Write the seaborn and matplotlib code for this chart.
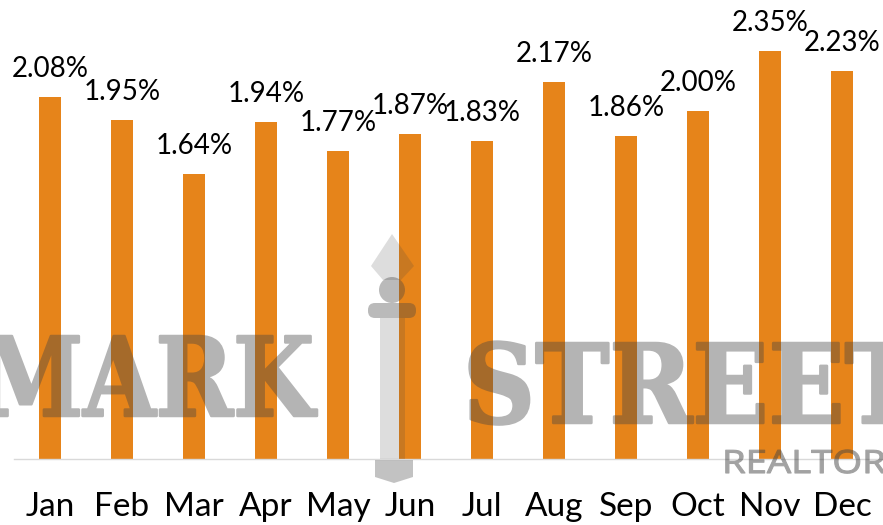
import os
import matplotlib
matplotlib.use("Agg")
import matplotlib.pyplot as plt
import pandas as pd
import seaborn as sns
from matplotlib.font_manager import FontProperties, findfont
from matplotlib.patheffects import AbstractPathEffect
from matplotlib.transforms import Affine2D
from matplotlib.patches import Rectangle, Polygon, Circle, FancyBboxPatch

# Monthly rate, percent
months = ["Jan", "Feb", "Mar", "Apr", "May", "Jun",
          "Jul", "Aug", "Sep", "Oct", "Nov", "Dec"]
rates = [2.08, 1.95, 1.64, 1.94, 1.77, 1.87, 1.83, 2.17, 1.86, 2.00, 2.35, 2.23]
value_labels = [f"{v:.2f}%" for v in rates]

BAR_COLOR = "#E6841A"
INK = "#444444"
W, H = 883, 525


class StretchInk(AbstractPathEffect):
    """Scale glyph outlines horizontally and thicken them with an outline stroke."""

    def __init__(self, sx=1.0, lw=0.0):
        super().__init__()
        self._sx, self._lw = sx, lw

    def draw_path(self, renderer, gc, tpath, affine, rgbFace=None):
        gc0 = renderer.new_gc()
        gc0.copy_properties(gc)
        if self._lw > 0:
            gc0.set_linewidth(self._lw)
            gc0.set_foreground(rgbFace)
            gc0.set_joinstyle("round")
        renderer.draw_path(gc0, tpath, Affine2D().scale(self._sx, 1.0) + affine, rgbFace)
        gc0.restore()


def group_alpha(a):
    """agg filter: fade an artist as a whole so overlapping strokes stay even."""
    def _filter(img, dpi):
        out = img.copy()
        out[..., 3] *= a
        return out, 0, 0
    return _filter


sns.set_theme(style="white")
plt.rcParams["font.family"] = ["Lato", "DejaVu Sans"]

# slab-serif face for the logo
slab_file = os.path.join(matplotlib.get_data_path(), "fonts", "ttf", "DejaVuSerif-Bold.ttf")
if not os.path.exists(slab_file):
    slab_file = findfont(FontProperties(family="DejaVu Serif", weight="bold"))
slab = FontProperties(fname=slab_file, size=79)

fig = plt.figure(figsize=(W / 100, H / 100), dpi=100)
fig.patch.set_facecolor("white")

# axes: baseline 66 px above the bottom edge, 173.8 px per percentage point
ymax = 2.6
ax = fig.add_axes([14 / W, 66 / H, 869 / W, ymax * 173.8 / H])

df = pd.DataFrame({"month": months, "rate": rates})
sns.barplot(data=df, x="month", y="rate", color=BAR_COLOR, saturation=1,
            width=0.31, linewidth=0, ax=ax)

ax.set_xlim(-0.5, 11.57)
ax.set_ylim(0, ymax)
ax.set_xlabel("")
ax.set_ylabel("")
ax.set_yticks([])
ax.tick_params(axis="x", length=0, pad=24, labelsize=24, labelcolor="black")
sns.despine(ax=ax, left=True)
ax.spines["bottom"].set_color("#D9D9D9")
ax.spines["bottom"].set_linewidth(1.0)

for bar, lbl in zip(ax.patches, value_labels):
    ax.annotate(lbl, (bar.get_x() + bar.get_width() / 2, bar.get_height()),
                xytext=(0, 14.4), textcoords="offset points",
                ha="center", va="baseline", fontsize=20, color="black",
                annotation_clip=False)

# --- logo watermark ---------------------------------------------------------
def fx(x):
    return x / W


def fy(y):
    return 1 - y / H


px = Affine2D().scale(1 / W, -1 / H).translate(0, 1) + fig.transFigure

wm = dict(fontproperties=slab, color=INK, ha="left", va="baseline", zorder=5)
t1 = fig.text(fx(-20), fy(416), "MARK", path_effects=[StretchInk(0.85, 1.8)], **wm)
t2 = fig.text(fx(463), fy(423), "STREET", path_effects=[StretchInk(0.91, 1.8)], **wm)
for t in (t1, t2):
    t.set_agg_filter(group_alpha(0.4))

t3 = fig.text(fx(722), fy(473), "REALTORS", family="Open Sans", color=INK,
              ha="left", va="baseline", fontsize=23, zorder=5,
              path_effects=[StretchInk(1.2, 0.8)])
t3.set_agg_filter(group_alpha(0.5))

# the post with its arrow finial
light = dict(facecolor=INK, edgecolor="none", alpha=0.18, transform=px, zorder=4)
mid = dict(facecolor=INK, edgecolor="none", alpha=0.37, transform=px, zorder=4)
fig.add_artist(Polygon([(392, 234), (414, 266), (401, 280), (383, 280), (371, 266)], **light))
fig.add_artist(Rectangle((380, 318), 25, 141, **light))
fig.add_artist(Circle((392, 290), 13, **mid))
fig.add_artist(FancyBboxPatch((368, 303), 48, 15,
                              boxstyle="round,pad=0,rounding_size=7", **mid))
fig.add_artist(Polygon([(375, 460), (413, 460), (413, 477), (394, 483), (375, 477)],
                       facecolor=INK, edgecolor="none", alpha=0.32, transform=px, zorder=4))

fig.savefig("out.png", dpi=100, facecolor="white")
